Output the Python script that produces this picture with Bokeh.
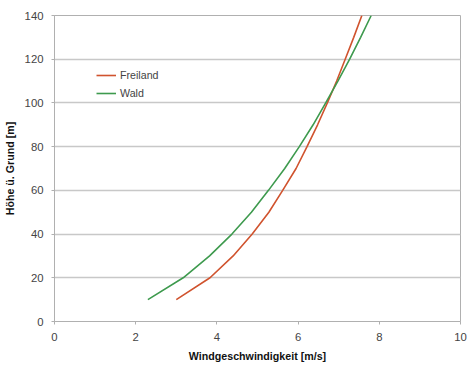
from bokeh.plotting import figure
from bokeh.models import Range1d, FixedTicker, Legend, LegendItem
from bokeh.embed import file_html
from bokeh.resources import INLINE

heights = [10, 20, 30, 40, 50, 60, 70, 80, 90, 100, 110, 120, 130, 140]
freiland = [3.0, 3.83, 4.4, 4.87, 5.28, 5.62, 5.95, 6.22, 6.48, 6.72, 6.95, 7.16, 7.37, 7.57]
wald = [2.3, 3.17, 3.82, 4.37, 4.85, 5.27, 5.67, 6.03, 6.37, 6.68, 6.98, 7.27, 7.54, 7.8]
x_ticks = [0, 2, 4, 6, 8, 10]
y_ticks = [0, 20, 40, 60, 80, 100, 120, 140]

FONT = "Liberation Sans"
GRID = "#c8c8c8"
TXT = "#444444"

p = figure(width=468, height=366, output_backend="svg", toolbar_location=None,
           x_range=Range1d(0, 10), y_range=Range1d(0, 140),
           min_border_left=54, min_border_right=8, min_border_top=15, min_border_bottom=45)
p.outline_line_color = "#b0b0b0"
p.background_fill_color = "white"
p.border_fill_color = "white"

p.xgrid.grid_line_color = None
p.ygrid.grid_line_color = GRID
p.ygrid.grid_line_width = 1.5

p.xaxis.ticker = FixedTicker(ticks=x_ticks)
p.yaxis.ticker = FixedTicker(ticks=y_ticks)
for ax in (p.xaxis[0], p.yaxis[0]):
    ax.axis_line_color = "#b0b0b0"
    ax.major_tick_line_color = "#b0b0b0"
    ax.major_tick_in = 0
    ax.major_tick_out = 3
    ax.minor_tick_line_color = None
    ax.major_label_text_font = FONT
    ax.major_label_text_font_size = "8.5pt"
    ax.major_label_text_color = TXT
    ax.axis_label_text_font = FONT
    ax.axis_label_text_font_size = "8pt"
    ax.axis_label_text_font_style = "bold"
    ax.axis_label_text_color = "#111111"
p.xaxis.axis_label = "Windgeschwindigkeit [m/s]"
p.yaxis.axis_label = "Höhe ü. Grund [m]"
p.xaxis.major_label_standoff = 8
p.yaxis.major_label_standoff = 8
p.xaxis.axis_label_standoff = 6
p.yaxis.axis_label_standoff = 6

r1 = p.line(freiland, heights, line_color="#d0532e", line_width=1.6)
r2 = p.line(wald, heights, line_color="#3e9a4e", line_width=1.6)

legend = Legend(items=[LegendItem(label="Freiland", renderers=[r1]),
                       LegendItem(label="Wald", renderers=[r2])],
                location=(42, 221))
legend.border_line_color = None
legend.background_fill_color = "white"
legend.background_fill_alpha = 1.0
legend.label_text_font = FONT
legend.label_text_font_size = "8pt"
legend.label_text_color = TXT
legend.glyph_width = 20
legend.glyph_height = 14
legend.label_height = 14
legend.spacing = 4
legend.padding = 10
legend.margin = 0
legend.label_standoff = 4
p.add_layout(legend, "center")

open("out.html", "w").write(file_html(p, INLINE))
